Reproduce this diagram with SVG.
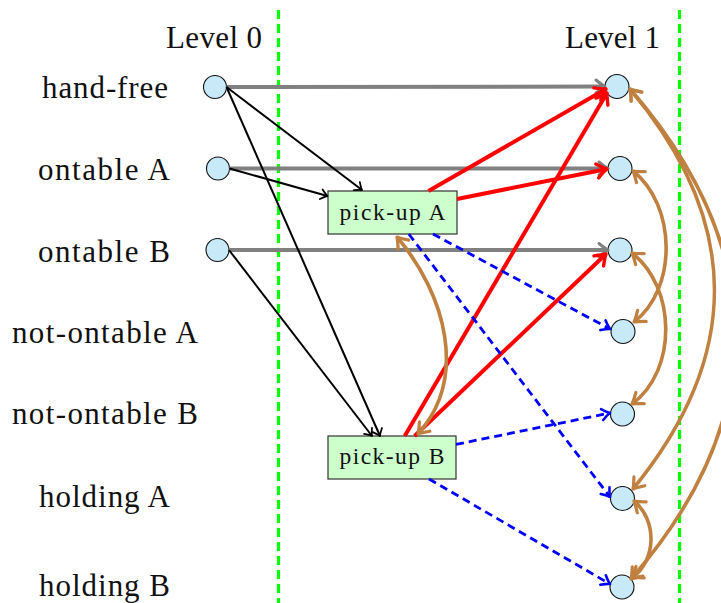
<svg xmlns="http://www.w3.org/2000/svg" width="721" height="603" viewBox="0 0 721 603">
<style>
.lbl{font-family:"Liberation Serif","Times New Roman",serif;font-size:31px;fill:#111;text-anchor:middle}
.box-t{font-family:"Liberation Serif","Times New Roman",serif;font-size:23.5px;fill:#111;text-anchor:middle}
.dot{fill:#c8e9f7;stroke:#111;stroke-width:1.1}
.box{fill:#ccffcc;stroke:#333;stroke-width:1.2}
.guide{stroke:#00ff00;stroke-width:3.2;stroke-dasharray:9 5;fill:none}
.gray{stroke:#808080;stroke-width:4;fill:none;marker-end:url(#ah-gray)}
.blk{stroke:#000;stroke-width:2;fill:none;marker-end:url(#ah-blk)}
.red{stroke:#ff0000;stroke-width:4;fill:none;marker-end:url(#ah-red)}
.blue{stroke:#0000ff;stroke-width:2.8;stroke-dasharray:8 5;fill:none;marker-end:url(#ah-blue)}
.brown{stroke:#bf8040;stroke-width:3.6;fill:none;marker-start:url(#ah-brown);marker-end:url(#ah-brown)}
</style>
<defs>
<marker id="ah-gray" markerUnits="userSpaceOnUse" orient="auto" overflow="visible" refX="0" refY="0" markerWidth="20" markerHeight="20">
<path d="M -9 -6.5 Q -3 -1.5 0 0 Q -3 1.5 -9 6.5" fill="none" stroke="#808080" stroke-width="3" stroke-linecap="round" stroke-linejoin="round"/>
</marker>
<marker id="ah-red" markerUnits="userSpaceOnUse" orient="auto" overflow="visible" refX="0" refY="0" markerWidth="20" markerHeight="20">
<path d="M -10 -7 Q -3 -1.5 0 0 Q -3 1.5 -10 7" fill="none" stroke="#ff0000" stroke-width="3.4" stroke-linecap="round" stroke-linejoin="round"/>
</marker>
<marker id="ah-brown" markerUnits="userSpaceOnUse" orient="auto-start-reverse" overflow="visible" refX="0" refY="0" markerWidth="20" markerHeight="20">
<path d="M -10 -7 Q -3 -1.5 0 0 Q -3 1.5 -10 7" fill="none" stroke="#bf8040" stroke-width="3.2" stroke-linecap="round" stroke-linejoin="round"/>
</marker>
<marker id="ah-blk" markerUnits="userSpaceOnUse" orient="auto" overflow="visible" refX="0" refY="0" markerWidth="20" markerHeight="20">
<path d="M -6.5 -5 Q -2 -1 0 0 Q -2 1 -6.5 5" fill="none" stroke="#000" stroke-width="1.8" stroke-linecap="round" stroke-linejoin="round"/>
</marker>
<marker id="ah-blue" markerUnits="userSpaceOnUse" orient="auto" overflow="visible" refX="0" refY="0" markerWidth="20" markerHeight="20">
<path d="M -8 -5.5 Q -2.5 -1 0 0 Q -2.5 1 -8 5.5" fill="none" stroke="#0000ff" stroke-width="2.6" stroke-linecap="round" stroke-linejoin="round"/>
</marker>
</defs>

<g id="guides">
<line class="guide" x1="278.5" y1="10" x2="278.5" y2="603"/>
<line class="guide" x1="679.5" y1="10" x2="679.5" y2="603"/>
</g>

<g id="labels">
<text class="lbl" x="214" y="48" textLength="96">Level 0</text>
<text class="lbl" x="612.5" y="48" textLength="95">Level 1</text>
<text class="lbl" x="105" y="98" textLength="126">hand-free</text>
<text class="lbl" x="104" y="180" textLength="132">ontable A</text>
<text class="lbl" x="104" y="262" textLength="132">ontable B</text>
<text class="lbl" x="105" y="343" textLength="186">not-ontable A</text>
<text class="lbl" x="105" y="424" textLength="186">not-ontable B</text>
<text class="lbl" x="104.5" y="507" textLength="131">holding A</text>
<text class="lbl" x="104.5" y="596" textLength="131">holding B</text>
</g>

<g id="l0-hand-free"><circle class="dot" cx="215" cy="87" r="11.5"/></g>
<g id="l0-ontable-a"><circle class="dot" cx="218" cy="168.5" r="11.5"/></g>
<g id="l0-ontable-b"><circle class="dot" cx="217.5" cy="250" r="11.5"/></g>

<g id="l1-hand-free"><circle class="dot" cx="617" cy="86.5" r="12"/></g>
<g id="l1-ontable-a"><circle class="dot" cx="620" cy="168.5" r="12"/></g>
<g id="l1-ontable-b"><circle class="dot" cx="620" cy="250" r="12"/></g>
<g id="l1-not-ontable-a"><circle class="dot" cx="623" cy="331.5" r="12"/></g>
<g id="l1-not-ontable-b"><circle class="dot" cx="622.5" cy="414" r="12"/></g>
<g id="l1-holding-a"><circle class="dot" cx="622.5" cy="498.5" r="12"/></g>
<g id="l1-holding-b"><circle class="dot" cx="622" cy="587" r="12"/></g>

<g id="pickup-a">
<rect class="box" x="328" y="191" width="129" height="43"/>
<text class="box-t" x="392.5" y="220" textLength="106">pick-up A</text>
</g>
<g id="pickup-b">
<rect class="box" x="328" y="436" width="128" height="43"/>
<text class="box-t" x="392" y="464" textLength="105">pick-up B</text>
</g>

<g id="connectors">
<line class="gray" x1="226.5" y1="87" x2="605" y2="86.5"/>
<line class="gray" x1="229.5" y1="168.5" x2="608" y2="168.5"/>
<line class="gray" x1="229" y1="250" x2="608" y2="250"/>

<line class="blk" x1="226.5" y1="87" x2="362" y2="190"/>
<line class="blk" x1="226.5" y1="87" x2="380" y2="436"/>
<line class="blk" x1="229.5" y1="168.5" x2="327.5" y2="196"/>
<line class="blk" x1="229" y1="250" x2="372" y2="436"/>

<line class="red" x1="428.5" y1="191" x2="606" y2="89"/>
<line class="red" x1="457" y1="199" x2="607" y2="169"/>
<line class="red" x1="404.7" y1="436" x2="607" y2="93"/>
<line class="red" x1="414.6" y1="436" x2="606" y2="254"/>

<line class="blue" x1="433" y1="234" x2="610" y2="329"/>
<line class="blue" x1="408.8" y1="234" x2="610" y2="497"/>
<line class="blue" x1="456" y1="444.4" x2="610" y2="413"/>
<line class="blue" x1="429" y1="479" x2="610" y2="584"/>

<path class="brown" d="M 397 237 C 446 295, 468 378, 418 434"/>
<path class="brown" d="M 633 171 C 676 205, 678 288, 634 322"/>
<path class="brown" d="M 632 253 C 676 287, 678 370, 632 404"/>
<path class="brown" d="M 634 501 C 657 520, 657 560, 632 578"/>
<path class="brown" d="M 630 89 C 742 222, 742 356, 633 489"/>
<path class="brown" d="M 630 89 C 770 250, 770 420, 631 579"/>
</g>
</svg>
